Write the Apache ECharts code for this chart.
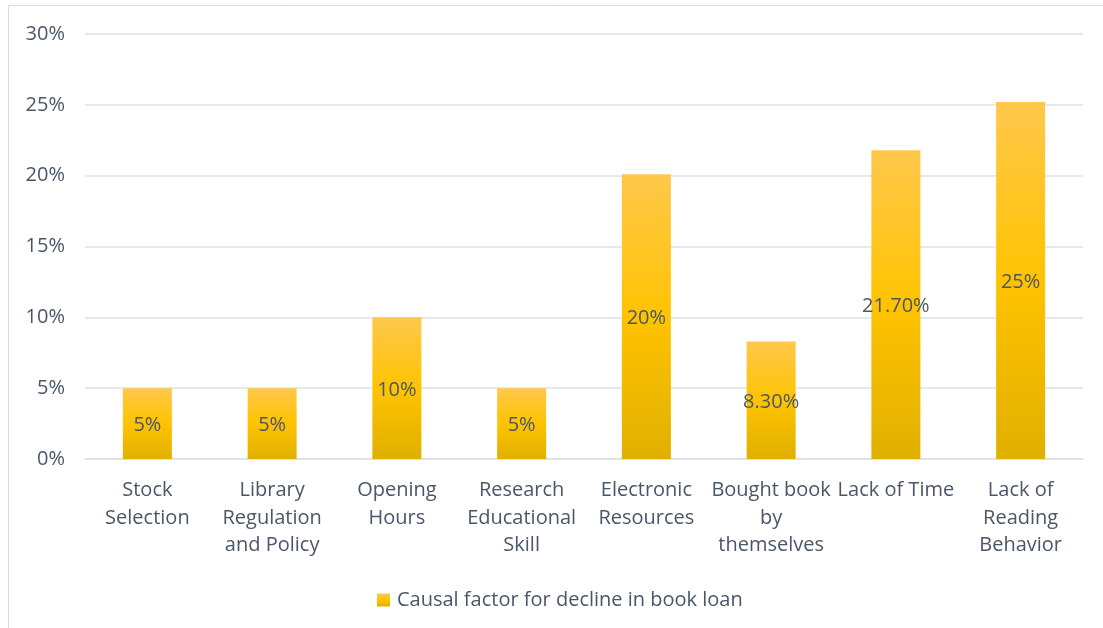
<!DOCTYPE html>
<html>
<head>
<meta charset="utf-8">
<script src="https://cdn.jsdelivr.net/npm/echarts@6/dist/echarts.min.js"></script>
<style>
html,body{margin:0;padding:0;background:#fff;}
#chart{width:1103px;height:628px;}
</style>
</head>
<body>
<div id="chart"></div>
<script>
var categories = ["Stock\nSelection", "Library\nRegulation\nand Policy", "Opening\nHours", "Research\nEducational\nSkill", "Electronic\nResources", "Bought book\nby\nthemselves", "Lack of Time", "Lack of\nReading\nBehavior"];
var values = [5, 5, 10, 5, 20.1, 8.3, 21.8, 25.2];
var valueLabels = ["5%", "5%", "10%", "5%", "20%", "8.30%", "21.70%", "25%"];
var seriesName = "Causal factor for decline in book loan";
var yTicks = [0, 5, 10, 15, 20, 25, 30];

var textColor = '#4b5669';
var fontFam = '"Open Sans", sans-serif';
var grad = new echarts.graphic.LinearGradient(0, 0, 0, 1, [
  {offset: 0, color: '#FFC84C'},
  {offset: 0.5, color: '#FFC300'},
  {offset: 1, color: '#E0B000'}
]);

var chart = echarts.init(document.getElementById('chart'), null, {renderer: 'canvas'});
chart.setOption({
  animation: false,
  backgroundColor: '#ffffff',
  graphic: [{
    type: 'rect', silent: true, z: -10,
    shape: {x: 8.5, y: 5.5, width: 1200, height: 700},
    style: {fill: 'none', stroke: '#d9dce1', lineWidth: 1}
  }],
  grid: {left: 85, right: 20, top: 34, bottom: 169},
  legend: {
    data: [seriesName],
    left: 377, top: 590, padding: 0,
    itemWidth: 13, itemHeight: 13, itemGap: 8,
    icon: 'rect',
    textStyle: {color: textColor, fontSize: 20, fontFamily: fontFam, padding: [0,0,0,2]}
  },
  xAxis: {
    type: 'category',
    data: categories,
    axisLine: {show: true, lineStyle: {color: '#dde1e6', width: 1.5}},
    axisTick: {show: false},
    axisLabel: {
      color: textColor, fontSize: 20, fontFamily: fontFam,
      lineHeight: 27.5, margin: 18, interval: 0, verticalAlign: 'top'
    }
  },
  yAxis: {
    type: 'value',
    min: 0, max: 30, interval: 5,
    axisLine: {show: false},
    axisTick: {show: false},
    splitLine: {lineStyle: {color: '#dde1e6', width: 1.5}},
    axisLabel: {
      color: textColor, fontSize: 20, fontFamily: fontFam, margin: 20,
      formatter: function (v) { return yTicks.indexOf(v) >= 0 ? v + '%' : ''; }
    }
  },
  series: [{
    name: seriesName,
    type: 'bar',
    data: values,
    barWidth: 49,
    itemStyle: {color: grad},
    label: {
      show: true, position: 'inside', offset: [0, 2],
      color: textColor, fontSize: 20, fontFamily: fontFam,
      formatter: function (p) { return valueLabels[p.dataIndex]; }
    }
  }]
});
</script>
</body>
</html>
